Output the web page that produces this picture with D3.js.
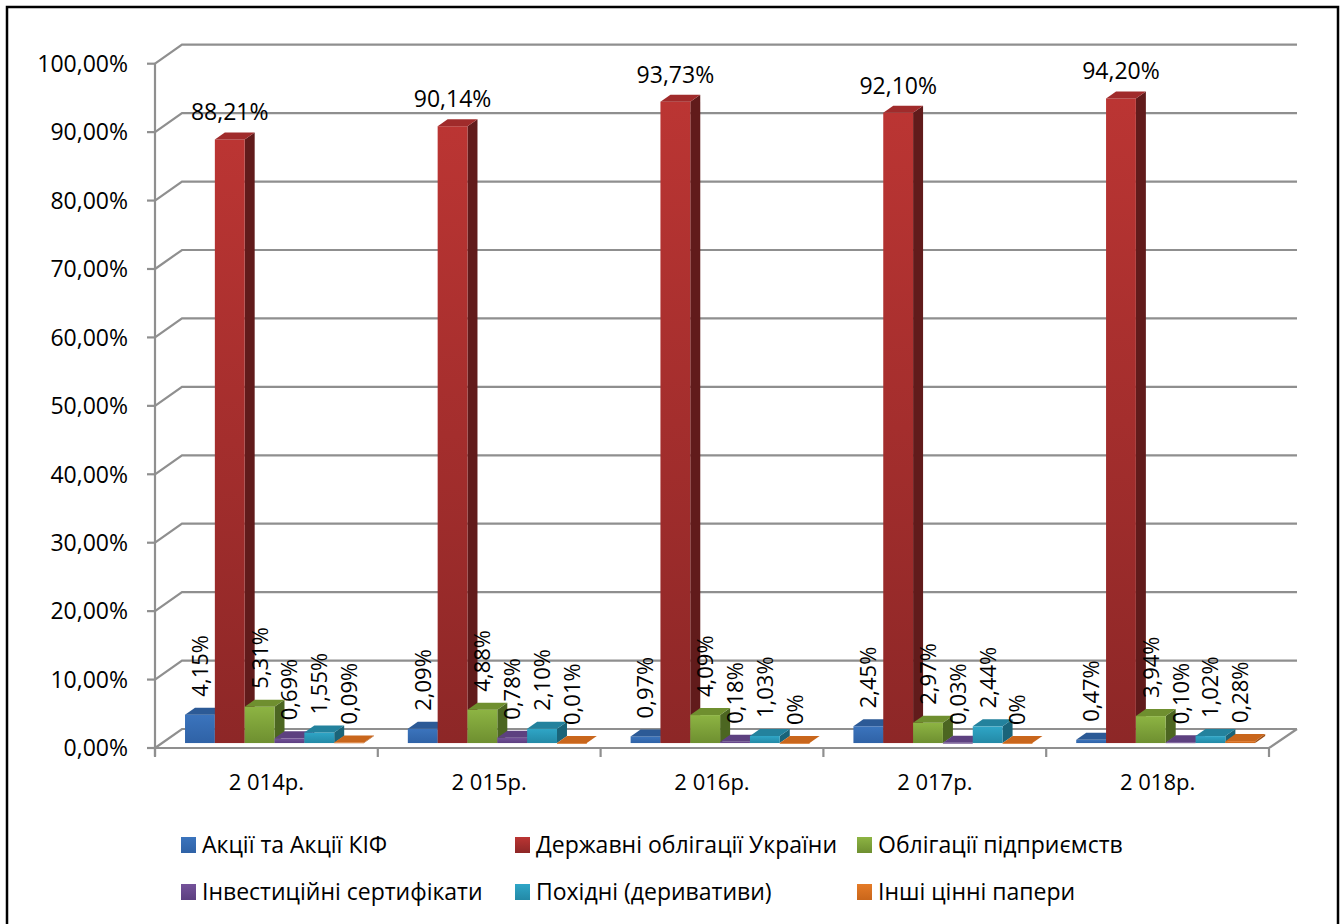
<!DOCTYPE html>
<html>
<head>
<meta charset="utf-8">
<script src="https://cdn.jsdelivr.net/npm/d3@7"></script>
<style>
  html, body { margin: 0; padding: 0; background: #fff; }
  svg { display: block; }
  text { font-family: "Open Sans", "Noto Sans", sans-serif; fill: #000; }
</style>
</head>
<body>
<svg id="chart" width="1344" height="924"></svg>
<script>
// Years on the category axis
const categories = ["2 014р.", "2 015р.", "2 016р.", "2 017р.", "2 018р."];

// Series names (legend order)
const seriesNames = [
  "Акції та Акції КІФ",
  "Державні облігації України",
  "Облігації підприємств",
  "Інвестиційні сертифікати",
  "Похідні (деривативи)",
  "Інші цінні папери"
];

// Shares of the portfolio, % per year
const akcii      = [4.15, 2.09, 0.97, 2.45, 0.47];
const derzhOblig = [88.21, 90.14, 93.73, 92.10, 94.20];
const obligPidpr = [5.31, 4.88, 4.09, 2.97, 3.94];
const investSert = [0.69, 0.78, 0.18, 0.03, 0.10];
const pokhidni   = [1.55, 2.10, 1.03, 2.44, 1.02];
const inshi      = [0.09, 0.01, 0, 0, 0.28];

// Value axis ticks
const yTicks = [0, 10, 20, 30, 40, 50, 60, 70, 80, 90, 100];

const seriesValues = [akcii, derzhOblig, obligPidpr, investSert, pokhidni, inshi];

// Face colours per series: front (top→bottom gradient), top face, side face
const palette = [
  { front: ["#3b74bd", "#2f62a6"], top: "#2c5a96", side: "#214a7d" },
  { front: ["#bb3533", "#8d2727"], top: "#a02b2b", side: "#611b1b" },
  { front: ["#8db443", "#6e8f30"], top: "#6f8f2f", side: "#4c6621" },
  { front: ["#74529a", "#5c3f80"], top: "#5d4180", side: "#43305e" },
  { front: ["#2fa6c7", "#2389a6"], top: "#23829d", side: "#1a6479" },
  { front: ["#e57b27", "#c9661b"], top: "#c9661c", side: "#9c4e14" }
];

const svg = d3.select("#chart");

// Outer frame
svg.append("rect")
  .attr("x", 7).attr("y", 7)
  .attr("width", 1331).attr("height", 930)
  .attr("fill", "#fff").attr("stroke", "#000").attr("stroke-width", 2.5);

// Oblique depth of the plot box
const DX = 27, DY = -19;
const zFront = 0.26, zBack = 0.63;

const x = d3.scaleBand().domain(categories).range([155, 1269]).padding(0);
const xs = d3.scaleBand().domain(d3.range(seriesNames.length)).range([23, 202]).padding(0);
const y = d3.scaleLinear().domain([0, 100]).range([748, 63.7]);

const fmtTick = v => v.toFixed(2).replace(".", ",") + "%";
const fmtVal = v => v === 0 ? "0%" : v.toFixed(2).replace(".", ",") + "%";

const gridColor = "#8f8f8f";
const grid = svg.append("g").attr("fill", "none").attr("stroke", gridColor).attr("stroke-width", 2.2);

// Gridlines: diagonal on the left wall, then straight across the back wall
yTicks.forEach(t => {
  const yy = y(t);
  grid.append("path")
    .attr("d", `M155,${yy}L${155 + DX},${yy + DY}L${x.range()[1] + DX + 1},${yy + DY}`);
  grid.append("line")
    .attr("x1", 147).attr("x2", 155).attr("y1", yy).attr("y2", yy);
});

// Floor outline and category axis
const x0 = x.range()[0], x1 = x.range()[1];
grid.append("path")
  .attr("d", `M${x0},${y(0)}L${x1},${y(0)}L${x1 + DX + 1},${y(0) + DY}`);
grid.append("line")
  .attr("x1", 155).attr("x2", 155).attr("y1", y(100)).attr("y2", y(0) + 8);
x.domain().concat([null]).forEach(c => {
  const xx = c === null ? x1 : x(c);
  grid.append("line")
    .attr("x1", xx).attr("x2", xx).attr("y1", y(0)).attr("y2", y(0) + 9);
});

// Value axis labels
svg.append("g").selectAll("text").data(yTicks).join("text")
  .attr("x", 128).attr("y", d => y(d))
  .attr("dy", "0.36em")
  .attr("text-anchor", "end")
  .style("font-size", "23px")
  .text(fmtTick);

// Category labels
svg.append("g").selectAll("text").data(categories).join("text")
  .attr("x", d => x(d) + x.bandwidth() / 2)
  .attr("y", 790)
  .attr("text-anchor", "middle")
  .style("font-size", "22px")
  .text(d => d);

// Gradients for the front faces
const defs = svg.append("defs");
palette.forEach((p, i) => {
  const g = defs.append("linearGradient")
    .attr("id", "front" + i).attr("x1", 0).attr("x2", 0).attr("y1", 0).attr("y2", 1);
  g.append("stop").attr("offset", "0%").attr("stop-color", p.front[0]);
  g.append("stop").attr("offset", "100%").attr("stop-color", p.front[1]);
});

// Bars, drawn left to right so each one hides its neighbour's side face
const bars = [];
categories.forEach((c, ci) => {
  seriesValues.forEach((vals, si) => {
    bars.push({ c, ci, si, v: vals[ci] });
  });
});

const barG = svg.append("g");
const fx = z => DX * z, fy = z => DY * z;

bars.forEach(b => {
  const left = x(b.c) + xs(b.si);
  const w = xs.bandwidth();
  const yt = y(b.v), yb = y(0);
  const p = palette[b.si];
  const g = barG.append("g");
  // side face
  g.append("path")
    .attr("d", `M${left + w + fx(zFront)},${yt + fy(zFront)}L${left + w + fx(zBack)},${yt + fy(zBack)}` +
               `L${left + w + fx(zBack)},${yb + fy(zBack)}L${left + w + fx(zFront)},${yb + fy(zFront)}Z`)
    .attr("fill", p.side);
  // front face
  g.append("rect")
    .attr("x", left + fx(zFront)).attr("y", yt + fy(zFront))
    .attr("width", w).attr("height", Math.max(0.8, yb - yt))
    .attr("fill", `url(#front${b.si})`);
  // top face
  g.append("path")
    .attr("d", `M${left + fx(zFront)},${yt + fy(zFront)}L${left + w + fx(zFront)},${yt + fy(zFront)}` +
               `L${left + w + fx(zBack)},${yt + fy(zBack)}L${left + fx(zBack)},${yt + fy(zBack)}Z`)
    .attr("fill", p.top);
});

// Data labels
const labelG = svg.append("g");
bars.forEach(b => {
  const cx = x(b.c) + xs(b.si) + xs.bandwidth() / 2 + fx(zFront);
  const topBack = y(b.v) + fy(zBack);
  if (b.si === 1) {
    labelG.append("text")
      .attr("x", cx).attr("y", topBack - 12)
      .attr("text-anchor", "middle")
      .style("font-size", "23px")
      .text(fmtVal(b.v));
  } else {
    labelG.append("text")
      .attr("transform", `translate(${cx},${topBack - 11}) rotate(-90)`)
      .attr("dy", "0.36em")
      .attr("text-anchor", "start")
      .style("font-size", "22px")
      .text(fmtVal(b.v));
  }
});

// Legend: two rows of three entries
const legendCols = [181, 515, 857];
const legendRows = [845, 892];
const legend = svg.append("g");
seriesNames.forEach((name, i) => {
  const lx = legendCols[i % 3], ly = legendRows[Math.floor(i / 3)];
  legend.append("rect")
    .attr("x", lx).attr("y", ly - 8)
    .attr("width", 15).attr("height", 16)
    .attr("fill", `url(#front${i})`);
  legend.append("text")
    .attr("x", lx + 21).attr("y", ly)
    .attr("dy", "0.36em")
    .style("font-size", "23px")
    .text(name);
});
</script>
</body>
</html>
